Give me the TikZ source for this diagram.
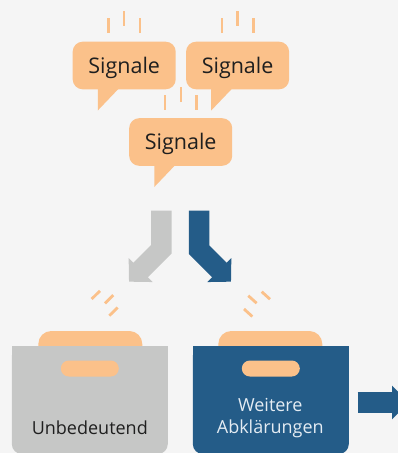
\documentclass[tikz,border=0pt]{standalone}
\usepackage{fontspec}
\setmainfont{Open Sans}
\usetikzlibrary{positioning,arrows.meta}

\definecolor{signal}{HTML}{FBC18A}
\definecolor{dull}{HTML}{C6C7C6}
\definecolor{deep}{HTML}{245C88}
\definecolor{deeptext}{HTML}{E4ECF3}
\definecolor{paper}{HTML}{F5F5F5}

\begin{document}
\begin{tikzpicture}[x=1pt,y=-1pt,
  bubble/.style={fill=signal,rounded corners=10pt,minimum width=103pt,minimum height=47.6pt,
    inner sep=0pt,text height=15.3pt,text depth=0pt,font=\fontsize{21.5}{24}\selectfont,text=black!88},
  tick/.style={draw=signal,line width=2.4pt},
  crate/.style={rounded corners=10pt,minimum width=156pt,minimum height=108pt,inner sep=0pt},
  lid/.style={fill=signal,rounded corners=13pt,minimum width=104pt,minimum height=30pt,inner sep=0pt},
  grip/.style={fill=signal,rounded corners=8pt,minimum width=58pt,minimum height=16pt,inner sep=0pt},
  fat/.style={line width=20.5pt,line join=miter,-{Triangle[width=33pt,length=16.5pt]}},
  boxtext/.style={font=\fontsize{18}{22.3}\selectfont,align=center,anchor=base}]
\fill[paper] (0,0) rectangle (398,453);
\useasboundingbox (0,0) rectangle (398,453);

% signals
\node[bubble] (sig1) at (124.2,65.5) {Signale};
\node[bubble] (sig2) [right=10pt of sig1] {Signale};
\node[bubble] (sig3) at (180.7,142) {Signale};
\foreach \b in {sig1,sig2,sig3}{
  \fill[signal] ([shift={(25.3,-1)}]\b.south west) -- ++(0,22) -- ++(21,-22) -- cycle;
  \foreach \dx/\lo in {-15.7/8.5,0/16,15.7/8.5}
    \draw[tick] ([shift={(\dx,-\lo)}]\b.north) -- ++(0,-15);
}

% sorting arrows
\coordinate (dullTop) at (161.4,210.7);
\coordinate (dullEnd) at (129,281.7);
\coordinate (deepTop) at (199.2,210.7);
\coordinate (deepEnd) at (231,281.7);
\draw[fat,dull] (dullTop) -- ++(0,38.6) -- (dullEnd);
\draw[fat,deep] (deepTop) -- ++(0,39.2) -- (deepEnd);

\foreach \x/\y in {91.7/299,105/303.3,109.3/315.7}
  \draw[tick,line width=2.8pt] (\x,\y) -- ++(8.3,-8.2);
\foreach \x/\y in {248.3/295.7,261.7/291.7,244/309}
  \draw[tick,line width=2.8pt] (\x,\y) -- ++(8.3,7.5);

% boxes
\node[lid] (unimpLid) at (90.3,346) {};
\node[crate,fill=dull] (unimp) at (89.8,400) {};
\fill[dull] (unimp.north west) rectangle ([yshift=-20pt]unimp.north east);
\node[grip] at ([yshift=-22.7pt]unimp.north) {};
\node[boxtext,text=black!88] at (89.8,434.3) {Unbedeutend};

\node[lid] (moreLid) at (270.3,346) {};
\node[crate,fill=deep] (more) at (270.8,400) {};
\fill[deep] (more.north west) rectangle ([yshift=-20pt]more.north east);
\node[grip] at ([yshift=-22.7pt]more.north) {};
\node[boxtext,text=deeptext] at (270.3,433.3) {Weitere\\Abklärungen};

\coordinate (nextFrom) at (357.7,402.5);
\coordinate (nextTo) at (408.5,402.5);
\draw[fat,deep,line width=21.6pt] (nextFrom) -- (nextTo);
\end{tikzpicture}
\end{document}
